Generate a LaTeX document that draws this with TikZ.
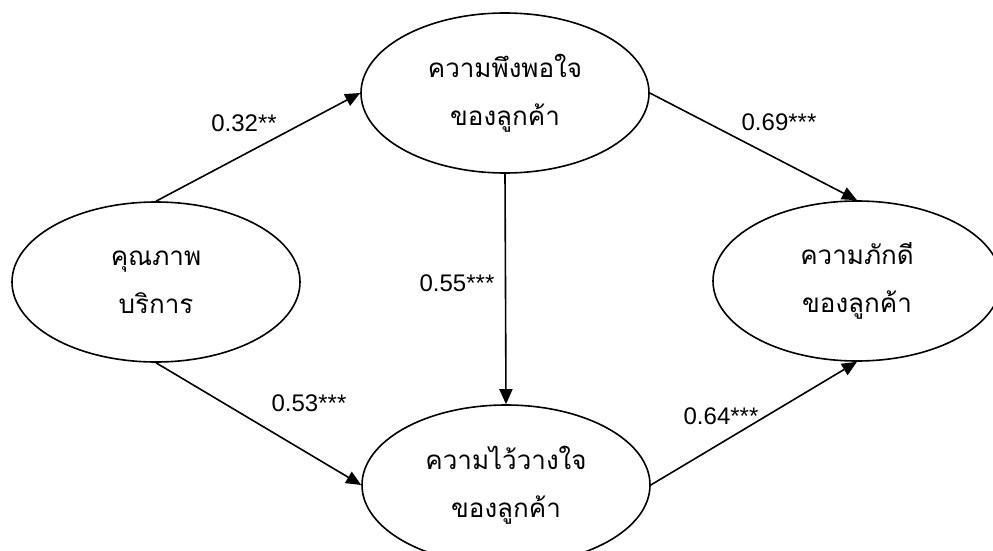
\documentclass[tikz,border=0pt]{standalone}
\usepackage{fontspec}
\setmainfont{Liberation Sans}
\newfontfamily\thaifont[Script=Thai]{Loma}
\usetikzlibrary{arrows.meta, shapes.geometric}
\tikzset{
  latent/.style = {draw, ellipse, line width=1.6pt,
                   minimum width=288pt, minimum height=160pt,
                   inner sep=0pt, align=center,
                   font=\thaifont\fontsize{26}{48}\selectfont},
  flow/.style   = {-{Triangle[length=15pt, width=13pt]}, line width=1.6pt},
  coef/.style   = {font=\fontsize{24}{28}\selectfont, inner sep=0pt},
}

\begin{document}
\begin{tikzpicture}[x=1pt, y=-1pt]
    \clip (0,0) rectangle (993,551);
    % constructs
    \node[latent] (svc)  at (156,282) {คุณภาพ\\บริการ};
    \node[latent] (sat)  at (505,93)  {ความพึงพอใจ\\ของลูกค้า};
    \node[latent] (trust) at (506,485) {ความไว้วางใจ\\ของลูกค้า};
    \node[latent] (loy)  at (857,281) {ความภักดี\\ของลูกค้า};

    \draw[flow] (svc.north) -- (sat.west);
    \draw[flow] (svc.south) -- (trust.west);
    \draw[flow] (sat.south) -- (trust.north);
    \draw[flow] (sat.east) -- (loy.north);
    \draw[flow] (trust.east) -- (loy.south);

    % path coefficients
    \node[coef] (c1) at (244,123) {0.32**};
    \node[coef] (c2) at (309,403) {0.53***};
    \node[coef] (c3) at (457,283) {0.55***};
    \node[coef] (c4) at (779,122) {0.69***};
    \node[coef] (c5) at (721,416) {0.64***};
\end{tikzpicture}
\end{document}
